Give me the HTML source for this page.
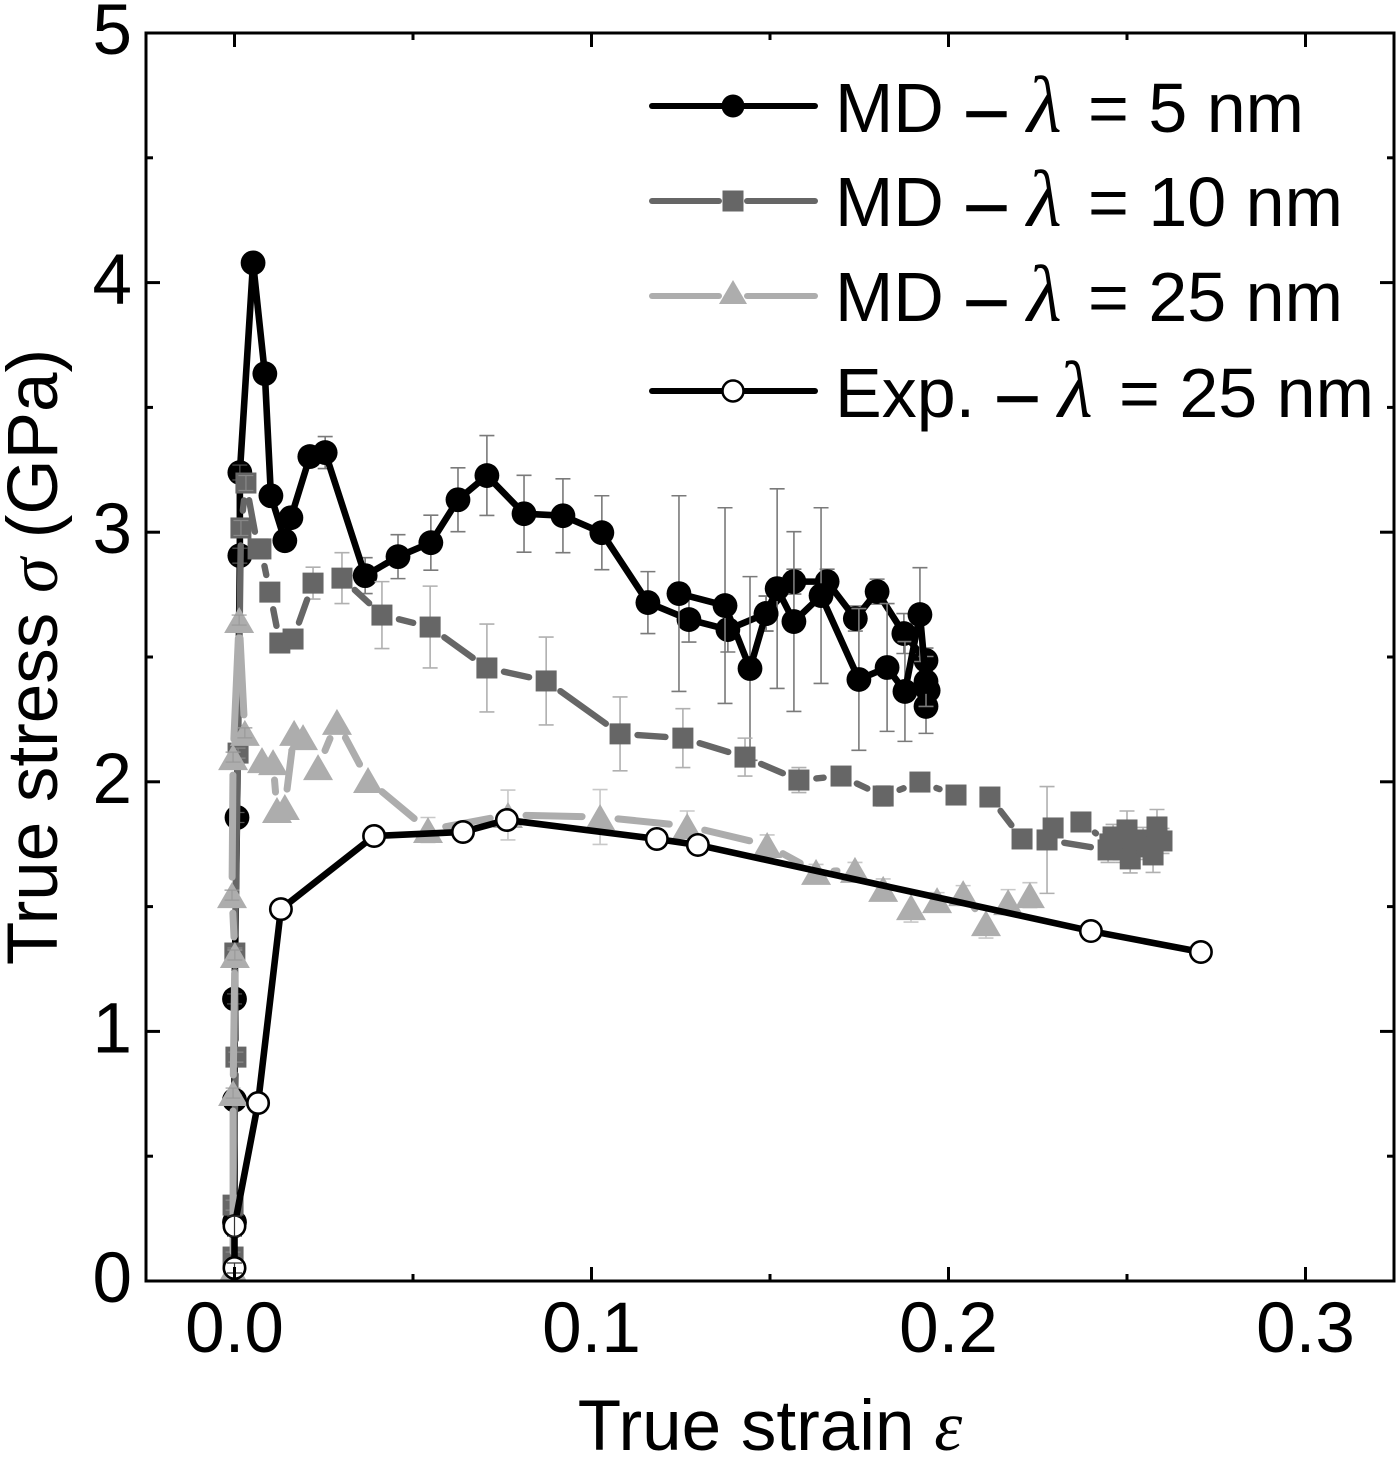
<!DOCTYPE html>
<html lang="en">
<head>
<meta charset="utf-8">
<title>True stress vs true strain</title>
<style>
  html, body { margin: 0; padding: 0; background: #fff; }
  svg { display: block; }
  text { font-family: "Liberation Sans", sans-serif; fill: #000; }
  .sym { font-family: "Liberation Serif", serif; font-style: italic; }
  .lam { font-family: "Liberation Serif", serif; font-style: italic; font-size: 80px; }
  .dash { stroke: #000; stroke-width: 1.5px; }
</style>
</head>
<body>
<svg id="chart" xmlns="http://www.w3.org/2000/svg" width="1400" height="1457" viewBox="0 0 1400 1457">
  <defs>
    <clipPath id="plot-clip"><rect x="146" y="33" width="1248" height="1248"></rect></clipPath>
  </defs>
  <rect x="0" y="0" width="1400" height="1457" fill="#fff"></rect>
  <g id="series-layer" clip-path="url(#plot-clip)"></g>
  <g id="axis-layer"></g>
  <text x="770" y="1450" font-size="71" text-anchor="middle">True strain <tspan class="sym">ε</tspan></text>
  <text transform="translate(57,657) rotate(-90)" font-size="71" text-anchor="middle">True stress <tspan class="sym">σ</tspan> (GPa)</text>

  <g>
    <g>
      <line x1="652" y1="106" x2="815" y2="106" stroke="#000" stroke-width="6" stroke-linecap="round"></line>
      <circle cx="733" cy="106" r="11.5" fill="#000"></circle>
      <text y="132" font-size="70"><tspan x="835">MD</tspan><tspan class="dash" x="967">–</tspan><tspan class="lam" x="1027">λ</tspan><tspan x="1088">= 5 nm</tspan></text>
    </g>
    <g>
      <line x1="652" y1="201" x2="719" y2="201" stroke="#666" stroke-width="6" stroke-linecap="round"></line>
      <line x1="747" y1="201" x2="815" y2="201" stroke="#666" stroke-width="6" stroke-linecap="round"></line>
      <rect x="722.5" y="190.5" width="21" height="21" fill="#666"></rect>
      <text y="226" font-size="70"><tspan x="835">MD</tspan><tspan class="dash" x="967">–</tspan><tspan class="lam" x="1027">λ</tspan><tspan x="1088">= 10 nm</tspan></text>
    </g>
    <g>
      <line x1="652" y1="296" x2="719" y2="296" stroke="#adadad" stroke-width="6" stroke-linecap="round"></line>
      <line x1="747" y1="296" x2="815" y2="296" stroke="#adadad" stroke-width="6" stroke-linecap="round"></line>
      <polygon points="733,280 719,304 747,304" fill="#adadad"></polygon>
      <text y="321" font-size="70"><tspan x="835">MD</tspan><tspan class="dash" x="967">–</tspan><tspan class="lam" x="1027">λ</tspan><tspan x="1088">= 25 nm</tspan></text>
    </g>
    <g>
      <line x1="652" y1="391" x2="815" y2="391" stroke="#000" stroke-width="6" stroke-linecap="round"></line>
      <circle cx="733" cy="391" r="10.5" fill="#fff" stroke="#000" stroke-width="2.5"></circle>
      <text y="417" font-size="70"><tspan x="835">Exp.</tspan><tspan class="dash" x="998">–</tspan><tspan class="lam" x="1058">λ</tspan><tspan x="1119">= 25 nm</tspan></text>
    </g>
  </g>
</svg>

<script>
// ---- axis ticks ----
const xTickValues = [0, 0.1, 0.2, 0.3];
const xTickLabels = ["0.0", "0.1", "0.2", "0.3"];
const xMinorValues = [0.05, 0.15, 0.25];
const yTickValues = [0, 1, 2, 3, 4, 5];
const yTickLabels = ["0", "1", "2", "3", "4", "5"];
const yMinorValues = [0.5, 1.5, 2.5, 3.5, 4.5];

// ---- MD, lambda = 5 nm, main branch ----
const md5Strain = [0, 0, 0, 0.0007, 0.0015, 0.0015, 0.0052, 0.0085, 0.0102, 0.0141, 0.0158, 0.0211, 0.0254, 0.0366, 0.0458, 0.055, 0.0626, 0.0707, 0.0811, 0.092, 0.1029, 0.1158, 0.1273, 0.1382, 0.1489, 0.1567, 0.166, 0.1739, 0.18, 0.1875, 0.1937, 0.1943, 0.1937];
const md5Stress = [0.236, 0.725, 1.13, 1.857, 2.906, 3.239, 4.079, 3.635, 3.146, 2.966, 3.058, 3.303, 3.319, 2.826, 2.902, 2.958, 3.13, 3.227, 3.074, 3.066, 2.998, 2.718, 2.65, 2.61, 2.674, 2.802, 2.802, 2.654, 2.762, 2.594, 2.486, 2.366, 2.302];
const md5Error = [0.02, 0.02, 0.02, 0.02, 0.03, 0.03, 0, 0, 0, 0, 0, 0.03, 0.064, 0.072, 0.088, 0.11, 0.128, 0.16, 0.154, 0.148, 0.148, 0.124, 0.09, 0.09, 0.07, 0.05, 0.05, 0.05, 0.05, 0.08, 0.05, 0.05, 0.108];

// ---- MD, lambda = 5 nm, second branch ----
const md5bStrain = [0.1245, 0.1374, 0.1444, 0.1489, 0.152, 0.1567, 0.1643, 0.1749, 0.1828, 0.1878, 0.192, 0.1937];
const md5bStress = [2.754, 2.706, 2.454, 2.674, 2.774, 2.642, 2.746, 2.41, 2.458, 2.362, 2.67, 2.402];
const md5bError = [0.392, 0.392, 0.368, 0.07, 0.4, 0.36, 0.352, 0.284, 0.256, 0.2, 0.188, 0.1];

// ---- MD, lambda = 10 nm ----
const md10Strain = [-0.0004, -0.0004, 0.0004, 0.0001, 0.001, 0.0018, 0.0032, 0.0066, 0.0074, 0.0099, 0.0127, 0.0164, 0.022, 0.0301, 0.0413, 0.0548, 0.0707, 0.0873, 0.108, 0.1256, 0.143, 0.1581, 0.1699, 0.1817, 0.192, 0.2021, 0.2116, 0.2206, 0.2293, 0.2371, 0.2452, 0.2461, 0.25, 0.2489, 0.2509, 0.2517, 0.2545, 0.2556, 0.2573, 0.2584, 0.2598, 0.2447, 0.2276];
const md10Stress = [0.096, 0.304, 0.897, 1.314, 2.115, 3.017, 3.197, 2.933, 2.933, 2.76, 2.556, 2.572, 2.796, 2.816, 2.668, 2.62, 2.456, 2.404, 2.192, 2.175, 2.099, 2.007, 2.023, 1.943, 1.999, 1.947, 1.939, 1.771, 1.815, 1.839, 1.751, 1.779, 1.807, 1.727, 1.691, 1.755, 1.767, 1.739, 1.707, 1.819, 1.763, 1.727, 1.767];
const md10Error = [0.02, 0.02, 0.02, 0.02, 0.02, 0.03, 0.03, 0.03, 0.03, 0.02, 0.02, 0.03, 0.064, 0.102, 0.134, 0.164, 0.176, 0.176, 0.148, 0.118, 0.076, 0.05, 0.03, 0.04, 0.03, 0.03, 0.03, 0.03, 0.03, 0.03, 0.05, 0.05, 0.076, 0.05, 0.056, 0.05, 0.05, 0.05, 0.07, 0.07, 0.05, 0.05, 0.214];

// ---- MD, lambda = 25 nm ----
const md25Strain = [-0.0004, -0.0004, 0.0001, -0.0007, -0.0004, 0.0013, 0.0029, 0.0077, 0.0108, 0.0119, 0.0141, 0.0167, 0.0192, 0.0234, 0.0287, 0.0374, 0.0542, 0.0766, 0.1024, 0.1268, 0.1492, 0.1629, 0.1738, 0.1817, 0.1895, 0.1968, 0.2041, 0.2105, 0.2167, 0.2228];
const md25Stress = [0.044, 0.753, 1.306, 1.546, 2.099, 2.648, 2.196, 2.087, 2.079, 1.887, 1.899, 2.196, 2.179, 2.059, 2.24, 2.007, 1.807, 1.867, 1.859, 1.823, 1.747, 1.639, 1.647, 1.571, 1.498, 1.526, 1.554, 1.434, 1.518, 1.546];
const md25Error = [0.02, 0.02, 0.02, 0.02, 0.02, 0.02, 0.02, 0, 0, 0, 0, 0, 0, 0, 0, 0, 0.05, 0.1, 0.11, 0.06, 0.04, 0.03, 0.03, 0.04, 0.06, 0.03, 0.03, 0.06, 0.05, 0.05];

// ---- Experiment, lambda = 25 nm ----
const expStrain = [0, 0, 0.0066, 0.013, 0.0391, 0.064, 0.0763, 0.1183, 0.1298, 0.2399, 0.2707];
const expStress = [0.052, 0.22, 0.713, 1.49, 1.783, 1.799, 1.847, 1.771, 1.747, 1.402, 1.318];
const expError = [0.02, 0.04, 0, 0, 0, 0, 0, 0, 0, 0, 0];

// ---- axis functions ----
const plotLeft = 146, plotRight = 1394, plotTop = 33, plotBottom = 1281;
const xDomainMin = -0.02479, xDomainMax = 0.32479;
const yDomainMin = 0, yDomainMax = 5;
const nearOriginStrain = 0.004;
function xScale(v) { return plotLeft + (v - xDomainMin) / (xDomainMax - xDomainMin) * (plotRight - plotLeft); }
function yScale(v) { return plotBottom - (v - yDomainMin) / (yDomainMax - yDomainMin) * (plotBottom - plotTop); }

const NS = "http://www.w3.org/2000/svg";
function make(tag, name, parent) {
  const el = document.createElementNS(NS, tag);
  
  
  parent.appendChild(el);
  return el;
}
function setAll(el, attrs) {
  Object.keys(attrs).forEach(function (k) { el.setAttribute(k, attrs[k]); });
  return el;
}

const seriesLayer = document.getElementById('series-layer');
const axisLayer = document.getElementById('axis-layer');

function drawMarker(kind, x, y, color, parent) {
  if (kind === 'circle') {
    setAll(make('circle', 'data-point', parent), { cx: x, cy: y, r: 12.4, fill: color });
  } else if (kind === 'square') {
    setAll(make('rect', 'data-point', parent), { x: x - 10.5, y: y - 10.5, width: 21, height: 21, fill: color });
  } else if (kind === 'triangle') {
    setAll(make('polygon', 'data-point', parent), {
      points: x + ',' + (y - 13) + ' ' + (x - 15) + ',' + (y + 13) + ' ' + (x + 15) + ',' + (y + 13),
      fill: color
    });
  } else {
    setAll(make('circle', 'data-point', parent), { cx: x, cy: y, r: 10.7, fill: '#fff', stroke: '#000', 'stroke-width': 2.6 });
  }
}

function errorPath(px, top, bot) {
  return 'M' + px + ' ' + top + 'V' + bot + 'M' + (px - 7.5) + ' ' + top + 'H' + (px + 7.5) + 'M' + (px - 7.5) + ' ' + bot + 'H' + (px + 7.5);
}

function drawSeries(name, xs, ys, errs, opts) {
  const g = make('g', name, seriesLayer);
  // error bars sit behind the marks, except the tiny crosses right at the origin
  const errBack = make('g', name + '-error-bars', g);
  for (let i = 0; i < xs.length; i++) {
    if (!errs[i] || xs[i] < nearOriginStrain) continue;
    const px = xScale(xs[i]), top = yScale(ys[i] + errs[i]), bot = yScale(ys[i] - errs[i]);
    const bar = make('path', 'error-bar', errBack);
    setAll(bar, { d: errorPath(px, top, bot), stroke: opts.errColor, 'stroke-width': 1.6, fill: 'none' });
  }
  // line segments, trimmed around the markers where the series has a gap
  const lines = make('g', name + '-line', g);
  for (let i = 0; i + 1 < xs.length; i++) {
    const x1 = xScale(xs[i]), y1 = yScale(ys[i]), x2 = xScale(xs[i + 1]), y2 = yScale(ys[i + 1]);
    const len = Math.hypot(x2 - x1, y2 - y1);
    if (len <= 2 * opts.gap) continue;
    const ux = (x2 - x1) / len, uy = (y2 - y1) / len;
    setAll(make('line', 'line-segment', lines), {
      x1: x1 + ux * opts.gap, y1: y1 + uy * opts.gap,
      x2: x2 - ux * opts.gap, y2: y2 - uy * opts.gap,
      stroke: opts.color, 'stroke-width': opts.width, 'stroke-linecap': 'round'
    });
  }
  const marks = make('g', name + '-markers', g);
  for (let i = 0; i < xs.length; i++) {
    drawMarker(opts.marker, xScale(xs[i]), yScale(ys[i]), opts.color, marks);
  }
  const errFront = make('g', name + '-small-error-bars', g);
  for (let i = 0; i < xs.length; i++) {
    if (!errs[i] || xs[i] >= nearOriginStrain) continue;
    const px = xScale(xs[i]), top = yScale(ys[i] + errs[i]), bot = yScale(ys[i] - errs[i]);
    const bar = make('path', 'error-bar', errFront);
    setAll(bar, { d: errorPath(px, top, bot), stroke: opts.frontErrColor, 'stroke-width': 1.2, fill: 'none' });
  }
}

drawSeries('series-md-5nm', md5Strain, md5Stress, md5Error, { color: '#000', width: 6.6, gap: 0, marker: 'circle', errColor: '#7a7a7a', frontErrColor: '#555' });
drawSeries('series-md-5nm-branch', md5bStrain, md5bStress, md5bError, { color: '#000', width: 6.6, gap: 0, marker: 'circle', errColor: '#7a7a7a', frontErrColor: '#555' });
drawSeries('series-md-10nm', md10Strain, md10Stress, md10Error, { color: '#666', width: 6.4, gap: 17.5, marker: 'square', errColor: '#b0b0b0', frontErrColor: '#888' });
drawSeries('series-md-25nm', md25Strain, md25Stress, md25Error, { color: '#adadad', width: 7, gap: 18, marker: 'triangle', errColor: '#c8c8c8', frontErrColor: '#999' });
drawSeries('series-exp-25nm', expStrain, expStress, expError, { color: '#000', width: 6.6, gap: 0, marker: 'open', errColor: '#333', frontErrColor: '#333' });

// ---- frame, ticks, labels ----
setAll(make('rect', 'plot-frame', axisLayer), { x: plotLeft, y: plotTop, width: plotRight - plotLeft, height: plotBottom - plotTop, fill: 'none', stroke: '#000', 'stroke-width': 3 });

function tickX(v, len) {
  const px = xScale(v);
  setAll(make('line', 'x-tick-bottom', axisLayer), { x1: px, x2: px, y1: plotBottom, y2: plotBottom - len, stroke: '#000', 'stroke-width': 3 });
  setAll(make('line', 'x-tick-top', axisLayer), { x1: px, x2: px, y1: plotTop, y2: plotTop + len, stroke: '#000', 'stroke-width': 3 });
}
function tickY(v, len) {
  const py = yScale(v);
  setAll(make('line', 'y-tick-left', axisLayer), { x1: plotLeft, x2: plotLeft + len, y1: py, y2: py, stroke: '#000', 'stroke-width': 3 });
  setAll(make('line', 'y-tick-right', axisLayer), { x1: plotRight, x2: plotRight - len, y1: py, y2: py, stroke: '#000', 'stroke-width': 3 });
}
xTickValues.forEach(function (v, i) {
  tickX(v, 14);
  const t = make('text', 'x-tick-label', axisLayer);
  setAll(t, { x: xScale(v), y: 1352, 'font-size': 71, 'text-anchor': 'middle' });
  t.textContent = xTickLabels[i];
});
xMinorValues.forEach(function (v) { tickX(v, 7); });
yTickValues.forEach(function (v, i) {
  if (v > yDomainMin && v < yDomainMax) tickY(v, 14);
  const t = make('text', 'y-tick-label', axisLayer);
  setAll(t, { x: 132, y: yScale(v) + 21, 'font-size': 71, 'text-anchor': 'end' });
  t.textContent = yTickLabels[i];
});
yMinorValues.forEach(function (v) { tickY(v, 7); });
</script>
</body>
</html>
